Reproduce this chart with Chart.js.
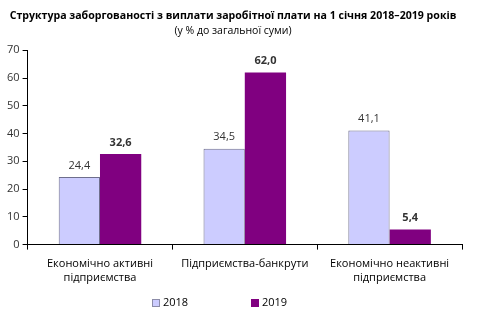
<!DOCTYPE html>
<html><head><meta charset="utf-8">
<script src="https://cdn.jsdelivr.net/npm/chart.js@4/dist/chart.umd.min.js"></script>
<style>html,body{margin:0;padding:0;background:#fff}#wrap{width:480px;height:322px;position:relative}</style>
</head><body><div id="wrap"><canvas id="c" width="480" height="322"></canvas></div>
<script>
const categories = [["Економічно активні","підприємства"],"Підприємства-банкрути",["Економічно неактивні","підприємства"]];
const values2018 = [24.4, 34.5, 41.1];
const values2019 = [32.6, 62.0, 5.4];
const seriesNames = ["2018","2019"];
const FONT = "'Open Sans', 'Liberation Sans', sans-serif";

const labelPlugin = {
  id: 'valLabels',
  afterDatasetsDraw(chart) {
    const ctx = chart.ctx;
    chart.data.datasets.forEach((ds, di) => {
      const meta = chart.getDatasetMeta(di);
      meta.data.forEach((bar, i) => {
        ctx.save();
        ctx.font = (di === 1 ? 'bold ' : '') + '11px ' + FONT;
        ctx.fillStyle = '#333';
        ctx.textAlign = 'center';
        ctx.textBaseline = 'bottom';
        ctx.fillText(ds.data[i].toFixed(1).replace('.', ','), bar.x, bar.y - 6);
        ctx.restore();
      });
    });
  }
};

const legendPlugin = {
  id: 'manualLegend',
  afterDraw(chart) {
    const ctx = chart.ctx;
    const xs = [156, 255];
    const y = 303;
    chart.data.datasets.forEach((ds, di) => {
      ctx.save();
      ctx.fillStyle = ds.backgroundColor;
      ctx.strokeStyle = di === 0 ? '#8C8CA8' : ds.backgroundColor;
      ctx.lineWidth = 1;
      ctx.fillRect(xs[di] - 3.5, y - 3.5, 7, 7);
      ctx.strokeRect(xs[di] - 3.5, y - 3.5, 7, 7);
      ctx.font = '11px ' + FONT;
      ctx.fillStyle = '#000';
      ctx.textAlign = 'left';
      ctx.textBaseline = 'middle';
      ctx.fillText(ds.label, xs[di] + 7, y);
      ctx.restore();
    });
  }
};

new Chart(document.getElementById('c'), {
  type: 'bar',
  data: {
    labels: categories,
    datasets: [
      { label: seriesNames[0], data: values2018, backgroundColor: '#CCCCFF', borderColor: '#6E6E8C', borderWidth: 1, borderSkipped: 'bottom' },
      { label: seriesNames[1], data: values2019, backgroundColor: '#800080', borderColor: '#800080', borderWidth: 0 }
    ]
  },
  options: {
    responsive: false,
    animation: false,
    layout: { padding: { left: 4, right: 18, top: 8, bottom: 30 } },
    datasets: { bar: { categoryPercentage: 0.57, barPercentage: 1.0 } },
    plugins: {
      title: { display: true, text: 'Структура заборгованості з виплати заробітної плати на 1 січня 2018–2019 років', font: { family: FONT, size: 10.6, weight: 'bold' }, color: '#000', padding: { top: 2, bottom: 0 } },
      subtitle: { display: true, text: '(у % до загальної суми)', font: { family: FONT, size: 10.5 }, color: '#000', padding: { top: 2, bottom: 13 } },
      legend: { display: false },
      tooltip: { enabled: false }
    },
    scales: {
      x: {
        grid: { display: true, drawOnChartArea: false, drawTicks: true, tickLength: 5, color: '#000', offset: true },
        border: { color: '#000', width: 1 },
        ticks: { font: { family: FONT, size: 11 }, color: '#000', maxRotation: 0, padding: 8 }
      },
      y: {
        min: 0, max: 70,
        grid: { display: true, drawOnChartArea: false, drawTicks: true, tickLength: 5, color: '#000' },
        border: { color: '#000', width: 1 },
        ticks: { stepSize: 10, font: { family: FONT, size: 11 }, color: '#333', padding: 3 }
      }
    }
  },
  plugins: [labelPlugin, legendPlugin]
});
</script></body></html>
